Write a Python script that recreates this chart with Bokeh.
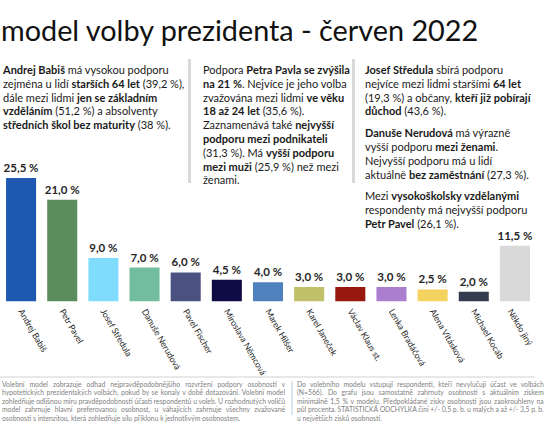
import math
from bokeh.plotting import figure
from bokeh.models import Range1d, FactorRange, GridBox, Div, ColumnDataSource
from bokeh.core.properties import value
from bokeh.embed import file_html
from bokeh.resources import INLINE

# ---------------- data ----------------
candidates = ["Andrej Babiš", "Petr Pavel", "Josef Středula", "Danuše Nerudová",
              "Pavel Fischer", "Miroslava Němcová", "Marek Hilšer", "Karel Janeček",
              "Václav Klaus st.", "Lenka Bradáčová", "Alena Vitásková",
              "Michael Kocáb", "Někdo jiný"]
support = [25.5, 21.0, 9.0, 7.0, 6.0, 4.5, 4.0, 3.0, 3.0, 3.0, 2.5, 2.0, 11.5]
bar_colors = ["#1f58b0", "#5b8c5e", "#80dcfd", "#72bda0", "#4b5282", "#0f0c45",
              "#4f81bd", "#c0bf6a", "#981810", "#ab7ecf", "#f4d25f", "#363c50",
              "#d9d9d9"]
value_labels = [f"{v:.1f}".replace(".", ",") + " %" for v in support]

title_text = "model volby prezidenta - červen 2022"

col1_html = ("<b>Andrej Babiš</b> má vysokou podporu<br>"
             "zejména u lidí <b>starších 64 let</b> (39,2 %),<br>"
             "dále mezi lidmi <b>jen se základním</b><br>"
             "<b>vzděláním</b> (51,2 %) a absolventy<br>"
             "<b>středních škol bez maturity</b> (38 %).")
col2_html = ("Podpora <b>Petra Pavla se zvýšila</b><br>"
             "<b>na 21 %</b>. Nejvíce je jeho volba<br>"
             "zvažována mezi lidmi <b>ve věku</b><br>"
             "<b>18 až 24 let</b> (35,6 %).<br>"
             "Zaznamenává také <b>nejvyšší</b><br>"
             "<b>podporu mezi podnikateli</b><br>"
             "(31,3 %). Má <b>vyšší podporu</b><br>"
             "<b>mezi muži</b> (25,9 %) než mezi<br>"
             "ženami.")
col3_paras = [
    ("<b>Josef Středula</b> sbírá podporu<br>"
     "nejvíce mezi lidmi staršími <b>64 let</b><br>"
     "(19,3 %) a občany, <b>kteří již pobírají</b><br>"
     "<b>důchod</b> (43,6 %)."),
    ("<b>Danuše Nerudová</b> má výrazně<br>"
     "vyšší podporu <b>mezi ženami</b>.<br>"
     "Nejvyšší podporu má u lidí<br>"
     "aktuálně <b>bez zaměstnání</b> (27,3 %)."),
    ("Mezi <b>vysokoškolsky vzdělanými</b><br>"
     "respondenty má nejvyšší podporu<br>"
     "<b>Petr Pavel</b> (26,1 %)."),
]
foot_left = [
    "Volební model zobrazuje odhad nejpravděpodobnějšího rozvržení podpory osobností v",
    "hypotetických prezidentských volbách, pokud by se konaly v době dotazování. Volební model",
    "zohledňuje odlišnou míru pravděpodobnosti účasti respondentů u voleb. U rozhodnutých voličů",
    "model zahrnuje hlavní preferovanou osobnost, u váhajících zahrnuje všechny zvažované",
    "osobnosti s intenzitou, která zohledňuje sílu příklonu k jednotlivým osobnostem.",
]
foot_right = [
    "Do volebního modelu vstupují respondenti, kteří nevylučují účast ve volbách",
    "(N=566). Do grafu jsou samostatně zahrnuty osobnosti s aktuálním ziskem",
    "minimálně 1,5 % v modelu. Předpokládané zisky osobností jsou zaokrouhleny na",
    "půl procenta. STATISTICKÁ ODCHYLKA činí +/- 0,5 p. b. u malých a až +/- 3,5 p. b.",
    "u největších zisků osobností.",
]

FONT = "Lato"
W, H = 535, 415

# ---------------- chart ----------------
src = ColumnDataSource(dict(cat=candidates, val=support, col=bar_colors, lab=value_labels))

p = figure(width=W, height=H, x_range=FactorRange(*candidates, range_padding=0),
           y_range=Range1d(0, 31.2), output_backend="svg", toolbar_location=None,
           min_border_left=0, min_border_right=0, min_border_top=150,
           min_border_bottom=114)
p.vbar(x="cat", top="val", width=0.73, color="col", line_color=None, source=src)
p.text(x="cat", y="val", text="lab", source=src, text_align="center",
       text_baseline="bottom", y_offset=-4, text_font=value(FONT),
       text_font_style="bold", text_font_size="11.5px", text_color="#262626")

p.yaxis.visible = False
p.xgrid.grid_line_color = None
p.ygrid.grid_line_color = None
p.outline_line_color = None
p.xaxis.axis_line_color = None
p.xaxis.major_tick_line_color = None
p.xaxis.minor_tick_line_color = None
p.xaxis.major_label_orientation = -math.radians(60)
p.xaxis.major_label_text_font = FONT
p.xaxis.major_label_text_font_size = "8.7px"
p.xaxis.major_label_text_color = "#262626"
p.xaxis.major_label_standoff = 2

# ---------------- texts ----------------
base = {"font-family": FONT, "color": "#1a1a1a", "white-space": "nowrap"}


def mkdiv(html, left, top, width, height, extra=None):
    st = dict(base)
    if extra:
        st.update(extra)
    return Div(text=html, width=width, height=height, margin=(top, 0, 0, left), styles=st)


title = mkdiv(title_text, 1, 15, 520, 32,
              {"font-size": "28.8px", "line-height": "30px", "color": "#111111"})

txt = {"font-size": "11px", "line-height": "13.8px"}
col1 = mkdiv(col1_html, 3, 63, 180, 70, txt)
sep1 = mkdiv("", 188, 59, 3, 124, {"background": "#d9d9d9"})
col2 = mkdiv(col2_html, 203, 63, 145, 126, txt)
sep2 = mkdiv("", 352, 59, 3, 124, {"background": "#d9d9d9"})
col3_html = "".join(f'<div style="margin-bottom:8px">{para}</div>' for para in col3_paras)
col3 = mkdiv(col3_html, 365, 63, 170, 175, txt)

hline = mkdiv("", 0, 376, W, 2, {"background": "#e8e8e8"})


def foot_html(lines):
    out = []
    for i, ln in enumerate(lines):
        last = "left" if i == len(lines) - 1 else "justify"
        out.append(f'<div style="text-align:justify;text-align-last:{last}">{ln}</div>')
    return "".join(out)


fst = {"font-size": "6.8px", "line-height": "8.4px", "color": "#7f7f7f"}
foot1 = mkdiv(foot_html(foot_left), 2, 380, 285, 35, fst)
foot2 = mkdiv(foot_html(foot_right), 297, 380, 238, 35, fst)
fsep = mkdiv("", 291, 381, 2, 34, {"background": "#dce6f2"})

grid = GridBox(children=[(p, 0, 0), (title, 0, 0), (col1, 0, 0), (sep1, 0, 0),
                         (col2, 0, 0), (sep2, 0, 0), (col3, 0, 0), (hline, 0, 0),
                         (fsep, 0, 0), (foot1, 0, 0), (foot2, 0, 0)],
               width=W, height=H)

open("out.html", "w").write(file_html(grid, INLINE))
